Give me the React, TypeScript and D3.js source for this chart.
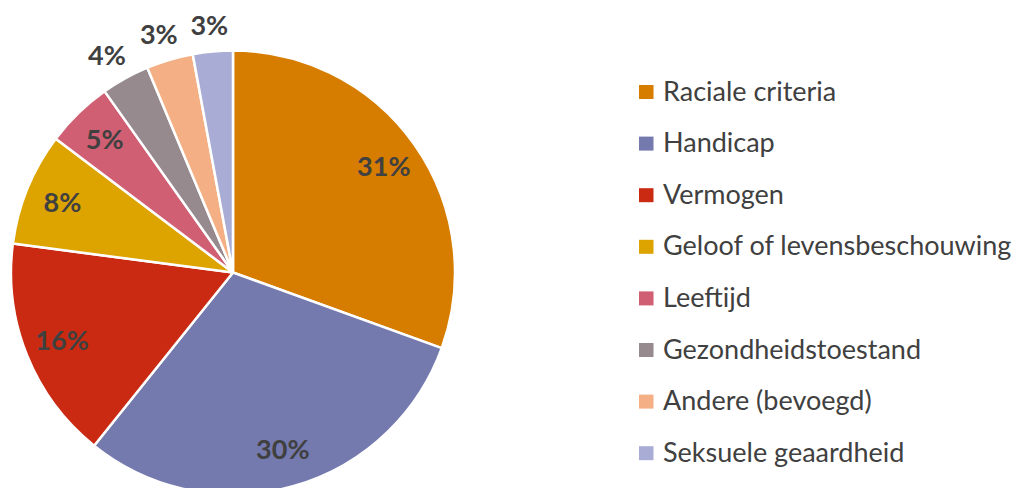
import React from "react";
import * as d3 from "d3";

const categories = [
  "Raciale criteria",
  "Handicap",
  "Vermogen",
  "Geloof of levensbeschouwing",
  "Leeftijd",
  "Gezondheidstoestand",
  "Andere (bevoegd)",
  "Seksuele geaardheid",
];
// Slice shares in percent
const shares = [30.5, 30.2, 16.3, 8.2, 4.9, 3.5, 3.4, 2.9];
const colors = [
  "#D67D00",
  "#7479AE",
  "#CB2A12",
  "#DDA400",
  "#D05F73",
  "#968A8E",
  "#F4B084",
  "#A9ADD5",
];

const W = 1014;
const H = 488;
const cx = 233;
const cy = 272.5;
const R = 222;
const FONT = "Lato, 'Open Sans', sans-serif";

export default function App() {
  const total = d3.sum(shares);
  const pie = d3.pie<number>().sort(null).value((d) => d);
  const arcs = pie(shares);
  const arcGen = d3.arc<d3.PieArcDatum<number>>().innerRadius(0).outerRadius(R);

  return (
    <svg
      width={W}
      height={H}
      style={{ position: "absolute", left: 0, top: 0, background: "#fff" }}
    >
      <g transform={`translate(${cx},${cy})`}>
        {arcs.map((a, i) => (
          <path
            key={i}
            d={arcGen(a) || ""}
            fill={colors[i]}
            stroke="#fff"
            strokeWidth={2.5}
            strokeLinejoin="round"
          />
        ))}
        {arcs.map((a, i) => {
          const pct = Math.round((shares[i] / total) * 100);
          const mid = (a.startAngle + a.endAngle) / 2;
          const isOut = pct <= 4;
          let x: number;
          let y: number;
          if (isOut) {
            const r = R + 16;
            x = r * Math.sin(mid) + Math.sin(mid) * 22;
            y = -r * Math.cos(mid) - Math.cos(mid) * 10;
          } else {
            const r = R * 0.83;
            x = r * Math.sin(mid);
            y = -r * Math.cos(mid);
          }
          return (
            <text
              key={i}
              x={x}
              y={y}
              dy="-0.05em"
              textAnchor="middle"
              dominantBaseline="central"
              fontFamily={FONT}
              fontWeight={700}
              fontSize={27}
              fill="#404040"
            >
              {pct}%
            </text>
          );
        })}
      </g>
      <g>
        {categories.map((c, i) => {
          const y = 92 + i * 51.6;
          return (
            <g key={c}>
              <rect x={639} y={y - 7} width={14.5} height={14} fill={colors[i]} />
              <text
                x={663}
                y={y}
                dy={-2}
                dominantBaseline="central"
                fontFamily={FONT}
                fontSize={27}
                fill="#404040"
              >
                {c}
              </text>
            </g>
          );
        })}
      </g>
    </svg>
  );
}
